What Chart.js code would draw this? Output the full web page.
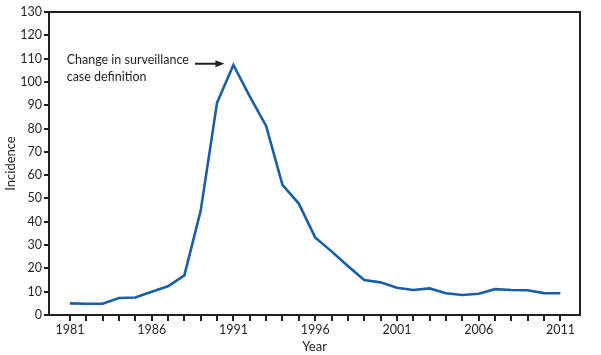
<!DOCTYPE html>
<html>
<head>
<meta charset="utf-8">
<script src="https://cdn.jsdelivr.net/npm/chart.js@4"></script>
<style>
html,body{margin:0;padding:0;background:#fff;}
#wrap{width:601px;height:355px;position:relative;}
</style>
</head>
<body>
<div id="wrap"><canvas id="c" width="601" height="355"></canvas></div>
<script>
const years = [1981,1982,1983,1984,1985,1986,1987,1988,1989,1990,1991,1992,1993,1994,1995,1996,1997,1998,1999,2000,2001,2002,2003,2004,2005,2006,2007,2008,2009,2010,2011];
const incidence = [5.0,4.8,4.8,7.3,7.5,10.0,12.3,17.0,44.8,91.1,107.3,93.8,81.1,55.8,47.8,33.3,27.3,21.0,15.0,14.0,11.7,10.7,11.4,9.3,8.6,9.1,11.1,10.7,10.6,9.4,9.3];
const yTicks = [0,10,20,30,40,50,60,70,80,90,100,110,120,130];
const annotationLines = ["Change in surveillance","case definition"];

const FONT = "Lato, 'Open Sans', sans-serif";

const boxPlugin = {
  id: 'boxAndNote',
  afterDraw(chart){
    const ctx = chart.ctx, a = chart.chartArea;
    const xs = chart.scales.x, ys = chart.scales.y;
    ctx.save();
    ctx.strokeStyle = '#231f20';
    ctx.lineWidth = 2;
    ctx.beginPath();
    ctx.moveTo(a.left, a.top);
    ctx.lineTo(a.right, a.top);
    ctx.lineTo(a.right, a.bottom);
    ctx.stroke();
    // annotation text
    ctx.fillStyle = '#231f20';
    ctx.font = "12.5px " + FONT;
    ctx.textBaseline = 'middle';
    ctx.textAlign = 'left';
    const tx = xs.getPixelForValue(1980.8);
    ctx.fillText(annotationLines[0], tx, ys.getPixelForValue(109.5));
    ctx.fillText(annotationLines[1], tx, ys.getPixelForValue(102.2));
    // arrow
    const ay = ys.getPixelForValue(107.8);
    const x0 = xs.getPixelForValue(1988.65), x1 = xs.getPixelForValue(1990.45);
    ctx.lineWidth = 2;
    ctx.beginPath();
    ctx.moveTo(x0, ay);
    ctx.lineTo(x1 - 7, ay);
    ctx.stroke();
    ctx.beginPath();
    ctx.moveTo(x1, ay);
    ctx.lineTo(x1 - 9, ay - 3.5);
    ctx.lineTo(x1 - 9, ay + 3.5);
    ctx.closePath();
    ctx.fill();
    ctx.restore();
  }
};

new Chart(document.getElementById('c'), {
  type: 'line',
  data: {
    datasets: [{
      data: years.map((y,i)=>({x:y, y:incidence[i]})),
      borderColor: '#1a5fa6',
      borderWidth: 2.6,
      pointRadius: 0,
      tension: 0,
      fill: false
    }]
  },
  options: {
    responsive: false,
    animation: false,
    layout: { padding: { left: 3, right: 21, top: 12, bottom: 0 } },
    plugins: { legend: { display: false }, tooltip: { enabled: false } },
    scales: {
      x: {
        type: 'linear',
        min: 1979.72,
        max: 2012.2,
        afterBuildTicks(axis){ axis.ticks = years.map(v=>({value:v})); },
        afterFit(scale){ scale.height = 40; },
        ticks: {
          autoSkip: false,
          maxRotation: 0,
          color: '#231f20',
          font: { size: 12.5, family: FONT },
          padding: 1,
          callback(v){ return ((v - 1981) % 5 === 0) ? String(v) : ''; }
        },
        grid: { drawOnChartArea: false, drawTicks: true, tickLength: 6, color: '#231f20', lineWidth: 2 },
        border: { display: true, color: '#231f20', width: 2 },
        title: { display: true, text: 'Year', color: '#231f20', font: { size: 13, family: FONT }, padding: { top: 0, bottom: 0 } }
      },
      y: {
        min: 0,
        max: 130,
        afterBuildTicks(axis){ axis.ticks = yTicks.map(v=>({value:v})); },
        afterFit(scale){ scale.width = 46; },
        ticks: {
          color: '#231f20',
          font: { size: 12.5, family: FONT },
          padding: 2
        },
        grid: { drawOnChartArea: false, drawTicks: true, tickLength: 5, color: '#231f20', lineWidth: 2 },
        border: { display: true, color: '#231f20', width: 2 },
        title: { display: true, text: 'Incidence', color: '#231f20', font: { size: 13, family: FONT }, padding: { top: 0, bottom: 0 } }
      }
    }
  },
  plugins: [boxPlugin]
});
</script>
</body>
</html>
